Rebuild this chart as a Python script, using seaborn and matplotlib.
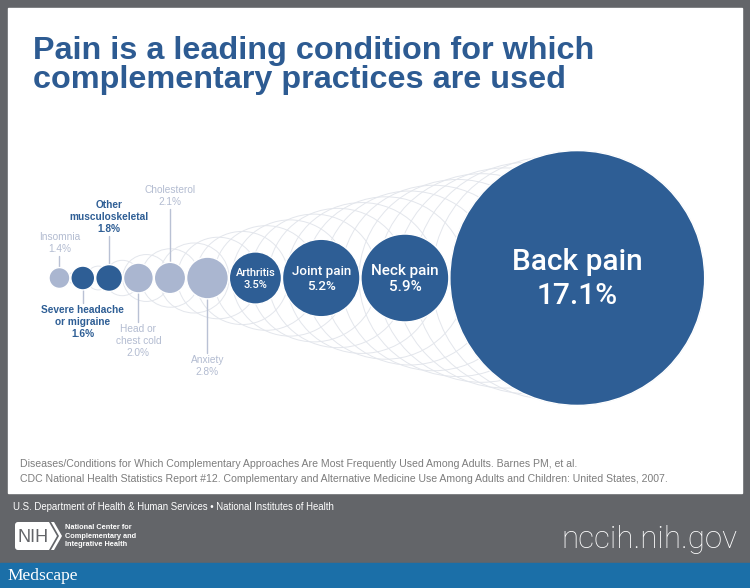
import numpy as np
import matplotlib.pyplot as plt
import seaborn as sns
from matplotlib.patches import Circle, Rectangle, Polygon, FancyBboxPatch

# Data
conditions = ['Insomnia', 'Severe headache\nor migraine', 'Other\nmusculoskeletal',
              'Head or\nchest cold', 'Cholesterol', 'Anxiety', 'Arthritis',
              'Joint pain', 'Neck pain', 'Back pain']
percent = [1.4, 1.6, 1.8, 2.0, 2.1, 2.8, 3.5, 5.2, 5.9, 17.1]
is_pain = [False, True, True, False, False, False, True, True, True, True]

# Label layout: where each label goes and how long its leader line is
placement = ['above', 'below', 'above', 'below', 'above', 'below',
             'inside', 'inside', 'inside', 'inside']
leader_len = [12, 13, 29, 29, 53, 54, 0, 0, 0, 0]
inside_size = [None] * 6 + [8.0, 9.6, 11.0, 21.5]

DARK = '#2e5e95'
LIGHT = '#aab6d0'
LIGHT_TXT = '#b3bcd1'
LINE = '#b9c1d4'
MESH = '#e3e6ec'
FRAME = '#636569'

sns.set_theme(style='white')
plt.rcParams['font.family'] = ['Liberation Sans', 'DejaVu Sans']

fig = plt.figure(figsize=(7.5, 5.88), dpi=100)
fig.patch.set_facecolor(FRAME)
ax = fig.add_axes([0, 0, 1, 1])
ax.set_xlim(0, 750)
ax.set_ylim(588, 0)
ax.axis('off')

# white panel and Medscape band
ax.add_patch(Rectangle((8, 8), 734, 485, color='white', zorder=0))
ax.add_patch(Rectangle((0, 563), 750, 25, color='#1b6fa8', zorder=0))

# bubble geometry: radius proportional to percent, bubbles touching in a row
k = 7.45
gap = 1.0
left = 49
cy = 278
radii = np.array(percent) * k
cx = left + np.cumsum(2 * radii + gap) - radii - gap

# decorative mesh: circles inside the cone from the left edge to the big bubble
sin_t = radii[-1] / (cx[-1] - left)
mesh_c = np.linspace(cx[0] + 15, cx[-1], 22)
for c in mesh_c:
    ax.add_patch(Circle((c, cy), (c - left) * sin_t, fill=False, ec=MESH, lw=0.7, zorder=1))

for i, (name, v) in enumerate(zip(conditions, percent)):
    col = DARK if is_pain[i] else LIGHT
    ax.add_patch(Circle((cx[i], cy), radii[i], fc=col, ec='white', lw=1, zorder=3))
    label = f'{name}\n{v}%'
    tcol = DARK if is_pain[i] else LIGHT_TXT
    weight = 'bold' if is_pain[i] else 'normal'
    if placement[i] == 'above':
        y0 = cy - radii[i]
        y1 = y0 - leader_len[i]
        ax.plot([cx[i], cx[i]], [y0, y1], color=LINE, lw=1, zorder=2)
        ax.text(cx[i], y1 - 2, label, ha='center', va='bottom', fontsize=7.3,
                color=tcol, fontweight=weight, linespacing=1.25, multialignment='center')
    elif placement[i] == 'below':
        y0 = cy + radii[i]
        y1 = y0 + leader_len[i]
        ax.plot([cx[i], cx[i]], [y0, y1], color=LINE, lw=1, zorder=2)
        ax.text(cx[i], y1 + 2, label, ha='center', va='top', fontsize=7.3,
                color=tcol, fontweight=weight, linespacing=1.25, multialignment='center')
    else:
        ax.text(cx[i], cy + 1, label, ha='center', va='center', fontsize=inside_size[i],
                color='white', linespacing=1.25, multialignment='center', zorder=4,
                family=['Roboto', 'Liberation Sans'], fontweight='medium')

# title
ax.text(33, 59, 'Pain is a leading condition for which', fontsize=23.3, fontweight='bold',
        color='#2d5b92', va='baseline')
ax.text(33, 88, 'complementary practices are used', fontsize=23.3, fontweight='bold',
        color='#2d5b92', va='baseline')

# source
ax.text(20, 467, 'Diseases/Conditions for Which Complementary Approaches Are Most '
        'Frequently Used Among Adults. Barnes PM, et al.', fontsize=7.6,
        color='#7d7d7d', va='baseline')
ax.text(20, 482, 'CDC National Health Statistics Report #12. Complementary and Alternative '
        'Medicine Use Among Adults and Children: United States, 2007.', fontsize=7.6,
        color='#7d7d7d', va='baseline')

# footer
ax.text(13, 510, 'U.S. Department of Health & Human Services \u2022 National Institutes of Health',
        fontsize=6.9, color='white', va='baseline')
ax.add_patch(FancyBboxPatch((15, 522), 34, 28, boxstyle='round,pad=0,rounding_size=3',
                            fc='white', ec='none', zorder=2))
ax.add_patch(Polygon([[44, 522], [49, 522], [57, 536], [49, 550], [44, 550]],
                     fc='white', ec='none', zorder=2))
ax.add_patch(Polygon([[51, 522], [54, 522], [62, 536], [54, 550], [51, 550], [59, 536]],
                     fc='white', ec='none', zorder=2))
ax.text(33, 537, 'NIH', fontsize=13, color=FRAME, ha='center', va='center', zorder=3)
ax.text(65, 536, 'National Center for\nComplementary and\nIntegrative Health',
        fontsize=5.3, fontweight='bold', color='white', va='center', linespacing=1.35)
ax.text(737, 539, 'nccih.nih.gov', fontsize=22.5, color='white', ha='right', va='center',
        family=['Roboto', 'Liberation Sans'], fontweight='light')
ax.text(7, 576, 'Medscape', fontsize=12.5, color='white', va='center',
        family=['Liberation Serif', 'DejaVu Serif'])

fig.savefig('out.png', dpi=100, facecolor=fig.get_facecolor())
